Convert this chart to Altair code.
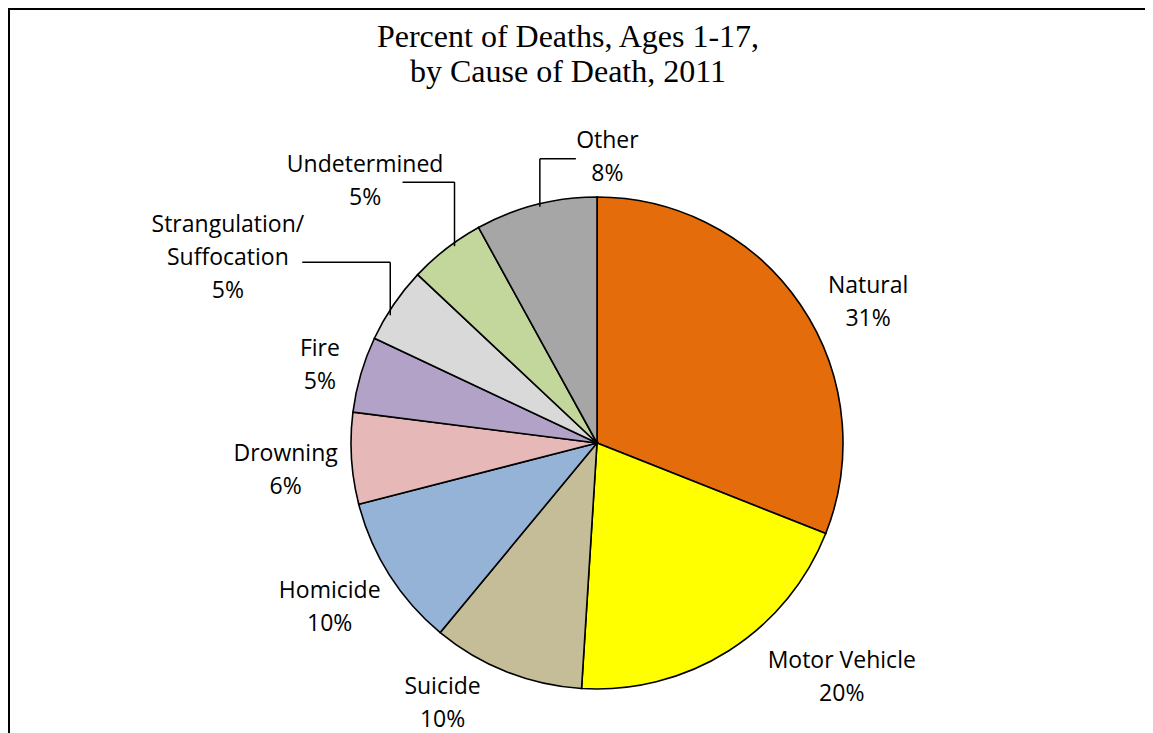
import altair as alt
import pandas as pd

# ---- data ----
causes = ["Natural", "Motor Vehicle", "Suicide", "Homicide", "Drowning",
          "Fire", "Strangulation/Suffocation", "Undetermined", "Other"]
percents = [31, 20, 10, 10, 6, 5, 5, 5, 8]
colors = ["#E46C0A", "#FFFF00", "#C4BD97", "#95B3D7", "#E6B9B8",
          "#B3A2C7", "#D9D9D9", "#C3D69B", "#A6A6A6"]
title_lines = ["Percent of Deaths, Ages 1-17,", "by Cause of Death, 2011"]

# ---- layout / style ----
W, H = 1137, 725
CX, CY = 589, 435          # pie centre in chart pixels
R = 246                    # pie radius
LABEL_R = 300              # radius at which labels are anchored
LABEL_FONT = "Open Sans"
LABEL_SIZE = 23
LABEL_LH = 33
# per-label nudges (dx, dy) relative to their polar anchor
label_nudge = {
    "Natural": (23, 19),
    "Motor Vehicle": (84, -28),
    "Suicide": (-44, -28),
    "Homicide": (-14, -6),
    "Drowning": (-12, -1),
    "Fire": (11, -3),
    "Strangulation/Suffocation": (-121, -42),
    "Undetermined": (-48, -34),
    "Other": (85, -4),
}
# leader lines: (vertical rise, horizontal run, angular shift in degrees)
leader = {
    "Other": (48, 36, 0.8),
    "Undetermined": (64, -52, 1.9),
    "Strangulation/Suffocation": (53, -88, -2.5),
}

df = pd.DataFrame({"cause": causes, "pct": percents, "idx": list(range(len(causes)))})
base = alt.Chart(df)

arcs = base.mark_arc(outerRadius=R, stroke="black", strokeWidth=1.6).encode(
    theta=alt.Theta("pct:Q", stack=True),
    color=alt.Color("cause:N", scale=alt.Scale(domain=causes, range=colors), legend=None),
    order=alt.Order("idx:Q"),
    x=alt.value(CX),
    y=alt.value(CY),
)


def label_layer(name, dx, dy):
    expr = (f"datum.cause === '{name}' ? "
            "split(replace(datum.cause, '/', '/|') + '|' + datum.pct + '%', '|') : ''")
    return base.transform_calculate(txt=expr).mark_text(
        radius=LABEL_R, dx=dx, dy=dy, align="center", baseline="alphabetic",
        font=LABEL_FONT, fontSize=LABEL_SIZE, lineHeight=LABEL_LH, color="black",
    ).encode(
        theta=alt.Theta("pct:Q", stack=True),
        order=alt.Order("idx:Q"),
        text=alt.Text("txt:N"),
        x=alt.value(CX),
        y=alt.value(CY),
    )


labels = [label_layer(n, *label_nudge[n]) for n in causes]


def case_expr(d, i):
    s = "0"
    for k, v in d.items():
        s = f"datum.cause === '{k}' ? {v[i]} : ({s})"
    return s


lead = base.transform_joinaggregate(total="sum(pct)").transform_window(
    cum="sum(pct)", sort=[alt.SortField("idx")], frame=[None, 0]
).transform_calculate(
    up=case_expr(leader, 0),
    hz=case_expr(leader, 1),
    shift=case_expr(leader, 2),
).transform_filter("datum.up > 0").transform_calculate(
    mid="2*PI*(datum.cum - datum.pct/2)/datum.total + datum.shift*PI/180",
).transform_calculate(
    x0=f"{CX} + {R - 3}*sin(datum.mid)",
    y0=f"{CY} - {R - 3}*cos(datum.mid)",
).transform_calculate(
    y1="datum.y0 - datum.up",
    x1="datum.x0 + datum.hz",
)

lead_v = lead.mark_rule(color="black", strokeWidth=1.5).encode(
    x=alt.X("x0:Q", scale=None, axis=None),
    y=alt.Y("y0:Q", scale=None, axis=None),
    y2="y1:Q",
)
lead_h = lead.mark_rule(color="black", strokeWidth=1.5).encode(
    x=alt.X("x0:Q", scale=None, axis=None),
    x2="x1:Q",
    y=alt.Y("y1:Q", scale=None, axis=None),
)

one = alt.Chart(pd.DataFrame({"k": [0]}))
title = one.mark_text(
    text=title_lines, font="Liberation Serif", fontSize=32, lineHeight=35,
    align="center", baseline="alphabetic", color="black",
).encode(x=alt.value(560), y=alt.value(39))

border_top = one.mark_rule(color="black", strokeWidth=2).encode(
    x=alt.value(0), x2=alt.value(W), y=alt.value(1))
border_left = one.mark_rule(color="black", strokeWidth=2).encode(
    x=alt.value(1), y=alt.value(0), y2=alt.value(H))

chart = alt.layer(
    arcs, lead_v, lead_h, *labels, title, border_top, border_left
).properties(
    width=W, height=H, autosize=alt.AutoSizeParams(type="none"), padding=0,
).configure_view(strokeWidth=0)

chart.save("out.html", embed_options={"renderer": "svg", "actions": False})
